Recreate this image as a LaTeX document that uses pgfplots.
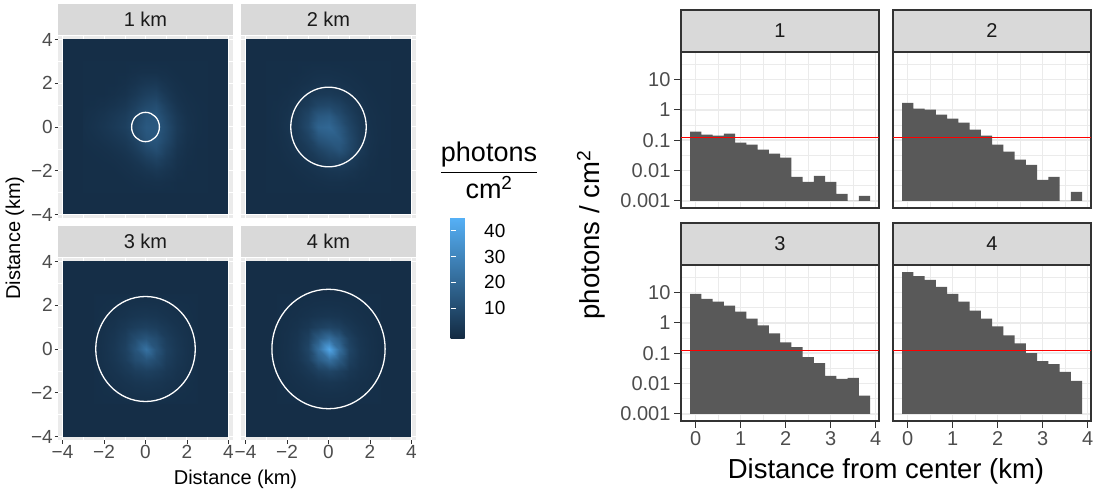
\documentclass[border=0pt]{standalone}
\usepackage{fontspec}
\setmainfont{Liberation Sans}
\usepackage{amsmath}
\usepackage{pgfplots}
\pgfplotsset{compat=1.18}

\definecolor{gray92}{RGB}{235,235,235}
\definecolor{gray85}{RGB}{217,217,217}
\definecolor{gray20}{RGB}{51,51,51}
\definecolor{gray30}{RGB}{77,77,77}
\definecolor{gray10}{RGB}{26,26,26}
\definecolor{barcol}{RGB}{89,89,89}
\definecolor{bgblue}{RGB}{21,46,71}
\definecolor{hred}{RGB}{255,0,0}

\pgfplotsset{
 myheat/.style={width=175bp,height=182bp,scale only axis,
  xmin=-4.22,xmax=4.22,ymin=-4.16,ymax=4.16,enlargelimits=false,
  axis background/.style={fill=gray92},
  xtick={-4,-2,0,2,4}, ytick={-4,-2,0,2,4},
  minor xtick={-3,-1,1,3}, minor ytick={-3,-1,1,3},
  xmajorgrids, ymajorgrids, xminorgrids, yminorgrids,
  major grid style={white,line width=1bp}, minor grid style={white,line width=0.5bp},
  axis line style={draw=none},
  tick align=outside, tick pos=left, major tick length=3.5bp, minor tick length=0pt,
  tick style={gray20,line width=0.8bp},
  ticklabel style={font=\fontsize{19bp}{22bp}\selectfont, text=gray30, inner sep=1.5bp},
  xticklabels={−4,−2,0,2,4}, yticklabels={−4,−2,0,2,4},
  colormap={gg}{rgb255=(19,43,67) rgb255=(86,177,247)},
  point meta min=-1.4, point meta max=45.2},
 mybars/.style={width=198bp,height=156bp,scale only axis,
  xmin=-0.325,xmax=4.075,ymin=0.000583,ymax=80.5,enlargelimits=false,
  xtick={0,1,2,3,4}, minor xtick={0.5,1.5,2.5,3.5},
  ytick={0.001,0.01,0.1,1,10}, minor ytick={0.00316,0.0316,0.316,3.16,31.6},
  xmajorgrids, ymajorgrids, xminorgrids, yminorgrids,
  major grid style={gray92,line width=1.4bp}, minor grid style={gray92,line width=0.7bp},
  axis line style={gray20,line width=1.2bp},
  tick align=outside, tick pos=left, major tick length=7bp, minor tick length=0pt,
  tick style={gray20,line width=1.1bp},
  ticklabel style={font=\fontsize{20bp}{24bp}\selectfont, text=gray30},
  xticklabels={0,1,2,3,4}, yticklabels={0.001,0.01,0.1,1,10}},
}

\begin{document}
\begin{tikzpicture}
\useasboundingbox (0,0) rectangle (1099bp,490bp);

% ---------------- left: heat maps ----------------
\begin{axis}[myheat, name=p1, at={(58bp,454bp)}, anchor=north west,
  xticklabels={,,,,}, xtick style={draw opacity=0}]
\addplot[fill=bgblue, draw=none] coordinates {(-4,-4) (4,-4) (4,4) (-4,4)} -- cycle;
\addplot[surf, shader=interp, mesh/cols=13, point meta=explicit] coordinates {
(-3,-3)[0] (-2.5,-3)[0] (-2,-3)[0] (-1.5,-3)[0] (-1,-3)[0] (-0.5,-3)[0] (0,-3)[0] (0.5,-3)[0] (1,-3)[0] (1.5,-3)[0] (2,-3)[0] (2.5,-3)[0] (3,-3)[0]
(-3,-2.5)[0] (-2.5,-2.5)[0] (-2,-2.5)[0] (-1.5,-2.5)[0] (-1,-2.5)[0] (-0.5,-2.5)[0.3] (0,-2.5)[0.6] (0.5,-2.5)[0.8] (1,-2.5)[0.5] (1.5,-2.5)[0] (2,-2.5)[0] (2.5,-2.5)[0] (3,-2.5)[0]
(-3,-2)[0] (-2.5,-2)[0] (-2,-2)[0] (-1.5,-2)[0] (-1,-2)[0.5] (-0.5,-2)[1.1] (0,-2)[2] (0.5,-2)[2.9] (1,-2)[1.9] (1.5,-2)[0.6] (2,-2)[0] (2.5,-2)[0] (3,-2)[0]
(-3,-1.5)[0] (-2.5,-1.5)[0] (-2,-1.5)[0.2] (-1.5,-1.5)[0.5] (-1,-1.5)[1.1] (-0.5,-1.5)[2.4] (0,-1.5)[4.8] (0.5,-1.5)[6.4] (1,-1.5)[4] (1.5,-1.5)[1.3] (2,-1.5)[0.3] (2.5,-1.5)[0] (3,-1.5)[0]
(-3,-1)[0] (-2.5,-1)[0.3] (-2,-1)[0.6] (-1.5,-1)[1.3] (-1,-1)[2.4] (-0.5,-1)[4.8] (0,-1)[8.8] (0.5,-1)[11] (1,-1)[6.4] (1.5,-1)[2.2] (2,-1)[0.6] (2.5,-1)[0] (3,-1)[0]
(-3,-0.5)[0.3] (-2.5,-0.5)[0.8] (-2,-0.5)[1.6] (-1.5,-0.5)[2.6] (-1,-0.5)[4] (-0.5,-0.5)[7.2] (0,-0.5)[12.8] (0.5,-0.5)[13.6] (1,-0.5)[8.8] (1.5,-0.5)[3.2] (2,-0.5)[1] (2.5,-0.5)[0.2] (3,-0.5)[0]
(-3,0)[0.5] (-2.5,0)[1.3] (-2,0)[2.4] (-1.5,0)[3.8] (-1,0)[5.6] (-0.5,0)[9.6] (0,0)[14.4] (0.5,0)[14.4] (1,0)[9.6] (1.5,0)[3.8] (2,0)[1.3] (2.5,0)[0.3] (3,0)[0]
(-3,0.5)[0.3] (-2.5,0.5)[1] (-2,0.5)[1.9] (-1.5,0.5)[3.2] (-1,0.5)[4.8] (-0.5,0.5)[8] (0,0.5)[12.8] (0.5,0.5)[13.6] (1,0.5)[8] (1.5,0.5)[3.2] (2,0.5)[1] (2.5,0.5)[0.3] (3,0.5)[0]
(-3,1)[0] (-2.5,1)[0.3] (-2,1)[0.8] (-1.5,1)[1.6] (-1,1)[2.9] (-0.5,1)[5.6] (0,1)[8.8] (0.5,1)[10.4] (1,1)[5.6] (1.5,1)[1.9] (2,1)[0.6] (2.5,1)[0.2] (3,1)[0]
(-3,1.5)[0] (-2.5,1.5)[0] (-2,1.5)[0] (-1.5,1.5)[0.5] (-1,1.5)[1.3] (-0.5,1.5)[3.2] (0,1.5)[5.6] (0.5,1.5)[6.4] (1,1.5)[3.2] (1.5,1.5)[1] (2,1.5)[0.3] (2.5,1.5)[0] (3,1.5)[0]
(-3,2)[0] (-2.5,2)[0] (-2,2)[0] (-1.5,2)[0] (-1,2)[0.5] (-0.5,2)[1.6] (0,2)[2.9] (0.5,2)[3.2] (1,2)[1.6] (1.5,2)[0.5] (2,2)[0] (2.5,2)[0] (3,2)[0]
(-3,2.5)[0] (-2.5,2.5)[0] (-2,2.5)[0] (-1.5,2.5)[0] (-1,2.5)[0] (-0.5,2.5)[0.5] (0,2.5)[0.8] (0.5,2.5)[0.8] (1,2.5)[0.5] (1.5,2.5)[0] (2,2.5)[0] (2.5,2.5)[0] (3,2.5)[0]
(-3,3)[0] (-2.5,3)[0] (-2,3)[0] (-1.5,3)[0] (-1,3)[0] (-0.5,3)[0] (0,3)[0] (0.5,3)[0] (1,3)[0] (1.5,3)[0] (2,3)[0] (2.5,3)[0] (3,3)[0]
};
\draw[white, line width=1.3bp] (axis cs:0,0) ellipse [x radius=0.67, y radius=0.67];
\end{axis}

\begin{axis}[myheat, name=p2, at={(241bp,454bp)}, anchor=north west,
  xticklabels={,,,,}, yticklabels={,,,,}, tick style={draw opacity=0},
  colorbar, colorbar style={at={(parent axis.south east)}, anchor=north west,
    xshift=26bp, yshift=1bp, width=25bp, height=121bp, scale only axis,
    ytick={10,20,30,40}, yticklabels={10,20,30,40}, tick align=inside, major tick length=5bp,
    tick style={white,line width=0.8bp}, axis line style={draw=none},
    tick pos=both, yticklabel pos=right,
    yticklabel style={font=\fontsize{19bp}{22bp}\selectfont, text=black, xshift=7bp}}]
\addplot[fill=bgblue, draw=none] coordinates {(-4,-4) (4,-4) (4,4) (-4,4)} -- cycle;
\addplot[surf, shader=interp, mesh/cols=13, point meta=explicit] coordinates {
(-3,-3)[0] (-2.5,-3)[0] (-2,-3)[0] (-1.5,-3)[0] (-1,-3)[0] (-0.5,-3)[0] (0,-3)[0] (0.5,-3)[0] (1,-3)[0] (1.5,-3)[0] (2,-3)[0] (2.5,-3)[0] (3,-3)[0]
(-3,-2.5)[0] (-2.5,-2.5)[0] (-2,-2.5)[0] (-1.5,-2.5)[0] (-1,-2.5)[0.3] (-0.5,-2.5)[0.5] (0,-2.5)[0.8] (0.5,-2.5)[0.8] (1,-2.5)[0.5] (1.5,-2.5)[0.3] (2,-2.5)[0] (2.5,-2.5)[0] (3,-2.5)[0]
(-3,-2)[0] (-2.5,-2)[0] (-2,-2)[0] (-1.5,-2)[0.4] (-1,-2)[0.9] (-0.5,-2)[1.6] (0,-2)[2.3] (0.5,-2)[2.6] (1,-2)[2] (1.5,-2)[0.9] (2,-2)[0.3] (2.5,-2)[0] (3,-2)[0]
(-3,-1.5)[0] (-2.5,-1.5)[0] (-2,-1.5)[0.4] (-1.5,-1.5)[1] (-1,-1.5)[2.1] (-0.5,-1.5)[3.6] (0,-1.5)[5.8] (0.5,-1.5)[6.5] (1,-1.5)[4.5] (1.5,-1.5)[2] (2,-1.5)[0.6] (2.5,-1.5)[0] (3,-1.5)[0]
(-3,-1)[0] (-2.5,-1)[0.1] (-2,-1)[0.8] (-1.5,-1)[2.1] (-1,-1)[3.9] (-0.5,-1)[7.2] (0,-1)[10.4] (0.5,-1)[13] (1,-1)[8.5] (1.5,-1)[3.4] (2,-1)[1] (2.5,-1)[0.1] (3,-1)[0]
(-3,-0.5)[0] (-2.5,-0.5)[0.3] (-2,-0.5)[1.2] (-1.5,-0.5)[3.1] (-1,-0.5)[6.5] (-0.5,-0.5)[13] (0,-0.5)[15.6] (0.5,-0.5)[15.6] (1,-0.5)[9.1] (1.5,-0.5)[3.6] (2,-0.5)[1.2] (2.5,-0.5)[0.3] (3,-0.5)[0]
(-3,0)[0] (-2.5,0)[0.4] (-2,0)[1.6] (-1.5,0)[3.9] (-1,0)[9.1] (-0.5,0)[18] (0,0)[19.5] (0.5,0)[14.3] (1,0)[7.8] (1.5,0)[3.1] (2,0)[1] (2.5,0)[0.3] (3,0)[0]
(-3,0.5)[0] (-2.5,0.5)[0.4] (-2,0.5)[1.3] (-1.5,0.5)[3.4] (-1,0.5)[7.8] (-0.5,0.5)[14.3] (0,0.5)[15.6] (0.5,0.5)[10.4] (1,0.5)[5.8] (1.5,0.5)[2.3] (2,0.5)[0.8] (2.5,0.5)[0.3] (3,0.5)[0]
(-3,1)[0] (-2.5,1)[0.3] (-2,1)[0.8] (-1.5,1)[2.1] (-1,1)[4.5] (-0.5,1)[7.8] (0,1)[8.5] (0.5,1)[6.5] (1,1)[3.6] (1.5,1)[1.6] (2,1)[0.5] (2.5,1)[0.1] (3,1)[0]
(-3,1.5)[0] (-2.5,1.5)[0] (-2,1.5)[0.4] (-1.5,1.5)[1] (-1,1.5)[2.3] (-0.5,1.5)[3.6] (0,1.5)[3.9] (0.5,1.5)[3.1] (1,1.5)[1.8] (1.5,1.5)[0.8] (2,1.5)[0.3] (2.5,1.5)[0] (3,1.5)[0]
(-3,2)[0] (-2.5,2)[0] (-2,2)[0] (-1.5,2)[0.4] (-1,2)[1] (-0.5,2)[1.6] (0,2)[1.7] (0.5,2)[1.3] (1,2)[0.8] (1.5,2)[0.4] (2,2)[0] (2.5,2)[0] (3,2)[0]
(-3,2.5)[0] (-2.5,2.5)[0] (-2,2.5)[0] (-1.5,2.5)[0] (-1,2.5)[0.4] (-0.5,2.5)[0.7] (0,2.5)[0.7] (0.5,2.5)[0.5] (1,2.5)[0.3] (1.5,2.5)[0] (2,2.5)[0] (2.5,2.5)[0] (3,2.5)[0]
(-3,3)[0] (-2.5,3)[0] (-2,3)[0] (-1.5,3)[0] (-1,3)[0] (-0.5,3)[0] (0,3)[0] (0.5,3)[0] (1,3)[0] (1.5,3)[0] (2,3)[0] (2.5,3)[0] (3,3)[0]
};
\draw[white, line width=1.3bp] (axis cs:0,0) ellipse [x radius=1.82, y radius=1.82];
\end{axis}

\begin{axis}[myheat, name=p3, at={(58bp,232bp)}, anchor=north west]
\addplot[fill=bgblue, draw=none] coordinates {(-4,-4) (4,-4) (4,4) (-4,4)} -- cycle;
\addplot[surf, shader=interp, mesh/cols=11, point meta=explicit] coordinates {
(-2.5,-2.5)[0] (-2,-2.5)[0] (-1.5,-2.5)[0] (-1,-2.5)[0] (-0.5,-2.5)[0] (0,-2.5)[0] (0.5,-2.5)[0] (1,-2.5)[0] (1.5,-2.5)[0] (2,-2.5)[0] (2.5,-2.5)[0]
(-2.5,-2)[0] (-2,-2)[0.2] (-1.5,-2)[0.4] (-1,-2)[0.8] (-0.5,-2)[1.1] (0,-2)[1.2] (0.5,-2)[1.1] (1,-2)[0.8] (1.5,-2)[0.4] (2,-2)[0.2] (2.5,-2)[0]
(-2.5,-1.5)[0] (-2,-1.5)[0.4] (-1.5,-1.5)[0.9] (-1,-1.5)[1.6] (-0.5,-1.5)[2.4] (0,-1.5)[2.8] (0.5,-1.5)[2.4] (1,-1.5)[1.6] (1.5,-1.5)[0.9] (2,-1.5)[0.4] (2.5,-1.5)[0]
(-2.5,-1)[0] (-2,-1)[0.8] (-1.5,-1)[1.6] (-1,-1)[3.2] (-0.5,-1)[5] (0,-1)[6] (0.5,-1)[5] (1,-1)[3.2] (1.5,-1)[1.6] (2,-1)[0.8] (2.5,-1)[0]
(-2.5,-0.5)[0] (-2,-0.5)[1.1] (-1.5,-0.5)[2.4] (-1,-0.5)[5] (-0.5,-0.5)[10] (0,-0.5)[13] (0.5,-0.5)[10] (1,-0.5)[5] (1.5,-0.5)[2.4] (2,-0.5)[1.1] (2.5,-0.5)[0]
(-2.5,0)[0] (-2,0)[1.2] (-1.5,0)[2.8] (-1,0)[6] (-0.5,0)[13] (0,0)[23] (0.5,0)[13] (1,0)[6] (1.5,0)[2.8] (2,0)[1.2] (2.5,0)[0]
(-2.5,0.5)[0] (-2,0.5)[1.1] (-1.5,0.5)[2.4] (-1,0.5)[5] (-0.5,0.5)[10] (0,0.5)[13] (0.5,0.5)[10] (1,0.5)[5] (1.5,0.5)[2.4] (2,0.5)[1.1] (2.5,0.5)[0]
(-2.5,1)[0] (-2,1)[0.8] (-1.5,1)[1.6] (-1,1)[3.2] (-0.5,1)[5] (0,1)[6] (0.5,1)[5] (1,1)[3.2] (1.5,1)[1.6] (2,1)[0.8] (2.5,1)[0]
(-2.5,1.5)[0] (-2,1.5)[0.4] (-1.5,1.5)[0.9] (-1,1.5)[1.6] (-0.5,1.5)[2.4] (0,1.5)[2.8] (0.5,1.5)[2.4] (1,1.5)[1.6] (1.5,1.5)[0.9] (2,1.5)[0.4] (2.5,1.5)[0]
(-2.5,2)[0] (-2,2)[0.2] (-1.5,2)[0.4] (-1,2)[0.8] (-0.5,2)[1.1] (0,2)[1.2] (0.5,2)[1.1] (1,2)[0.8] (1.5,2)[0.4] (2,2)[0.2] (2.5,2)[0]
(-2.5,2.5)[0] (-2,2.5)[0] (-1.5,2.5)[0] (-1,2.5)[0] (-0.5,2.5)[0] (0,2.5)[0] (0.5,2.5)[0] (1,2.5)[0] (1.5,2.5)[0] (2,2.5)[0] (2.5,2.5)[0]
};
\draw[white, line width=1.3bp] (axis cs:0,0) ellipse [x radius=2.4, y radius=2.4];
\end{axis}

\begin{axis}[myheat, name=p4, at={(241bp,232bp)}, anchor=north west,
  yticklabels={,,,,}, ytick style={draw opacity=0}]
\addplot[fill=bgblue, draw=none] coordinates {(-4,-4) (4,-4) (4,4) (-4,4)} -- cycle;
\addplot[surf, shader=interp, mesh/cols=11, point meta=explicit] coordinates {
(-2.5,-2.5)[0] (-2,-2.5)[0] (-1.5,-2.5)[0] (-1,-2.5)[0] (-0.5,-2.5)[0] (0,-2.5)[0] (0.5,-2.5)[0] (1,-2.5)[0] (1.5,-2.5)[0] (2,-2.5)[0] (2.5,-2.5)[0]
(-2.5,-2)[0] (-2,-2)[0.1] (-1.5,-2)[0.2] (-1,-2)[0.5] (-0.5,-2)[0.8] (0,-2)[0.9] (0.5,-2)[0.8] (1,-2)[0.5] (1.5,-2)[0.2] (2,-2)[0.1] (2.5,-2)[0]
(-2.5,-1.5)[0] (-2,-1.5)[0.2] (-1.5,-1.5)[0.6] (-1,-1.5)[1.3] (-0.5,-1.5)[2.1] (0,-1.5)[2.5] (0.5,-1.5)[2.1] (1,-1.5)[1.3] (1.5,-1.5)[0.6] (2,-1.5)[0.2] (2.5,-1.5)[0]
(-2.5,-1)[0] (-2,-1)[0.5] (-1.5,-1)[1.3] (-1,-1)[3] (-0.5,-1)[5.8] (0,-1)[7.5] (0.5,-1)[5.8] (1,-1)[3] (1.5,-1)[1.3] (2,-1)[0.5] (2.5,-1)[0]
(-2.5,-0.5)[0] (-2,-0.5)[0.8] (-1.5,-0.5)[2.1] (-1,-0.5)[5.8] (-0.5,-0.5)[15] (0,-0.5)[22] (0.5,-0.5)[15] (1,-0.5)[5.8] (1.5,-0.5)[2.1] (2,-0.5)[0.8] (2.5,-0.5)[0]
(-2.5,0)[0] (-2,0)[0.9] (-1.5,0)[2.5] (-1,0)[7.5] (-0.5,0)[22] (0,0)[41] (0.5,0)[22] (1,0)[7.5] (1.5,0)[2.5] (2,0)[0.9] (2.5,0)[0]
(-2.5,0.5)[0] (-2,0.5)[0.8] (-1.5,0.5)[2.1] (-1,0.5)[5.8] (-0.5,0.5)[15] (0,0.5)[22] (0.5,0.5)[15] (1,0.5)[5.8] (1.5,0.5)[2.1] (2,0.5)[0.8] (2.5,0.5)[0]
(-2.5,1)[0] (-2,1)[0.5] (-1.5,1)[1.3] (-1,1)[3] (-0.5,1)[5.8] (0,1)[7.5] (0.5,1)[5.8] (1,1)[3] (1.5,1)[1.3] (2,1)[0.5] (2.5,1)[0]
(-2.5,1.5)[0] (-2,1.5)[0.2] (-1.5,1.5)[0.6] (-1,1.5)[1.3] (-0.5,1.5)[2.1] (0,1.5)[2.5] (0.5,1.5)[2.1] (1,1.5)[1.3] (1.5,1.5)[0.6] (2,1.5)[0.2] (2.5,1.5)[0]
(-2.5,2)[0] (-2,2)[0.1] (-1.5,2)[0.2] (-1,2)[0.5] (-0.5,2)[0.8] (0,2)[0.9] (0.5,2)[0.8] (1,2)[0.5] (1.5,2)[0.2] (2,2)[0.1] (2.5,2)[0]
(-2.5,2.5)[0] (-2,2.5)[0] (-1.5,2.5)[0] (-1,2.5)[0] (-0.5,2.5)[0] (0,2.5)[0] (0.5,2.5)[0] (1,2.5)[0] (1.5,2.5)[0] (2,2.5)[0] (2.5,2.5)[0]
};
\draw[white, line width=1.3bp] (axis cs:0,0) ellipse [x radius=2.73, y radius=2.73];
\end{axis}

% strips (left)
\foreach \p/\t in {p1/1 km, p2/2 km, p3/3 km, p4/4 km}{
  \fill[gray85] ([yshift=1bp]\p.north west) rectangle ([yshift=32bp]\p.north east);
  \node[font=\fontsize{20bp}{24bp}\selectfont, text=gray10] at ([yshift=16.5bp]\p.north) {\t};
}
\node[rotate=90, font=\fontsize{20bp}{24bp}\selectfont] at (15bp,252bp) {Distance (km)};
\node[anchor=base, font=\fontsize{20bp}{24bp}\selectfont] at (235.5bp,6bp) {Distance (km)};

% colour legend title
\node[anchor=base, inner sep=0pt, font=\fontsize{27bp}{30bp}\selectfont] at (489bp,311.25bp)
  {$\dfrac{\text{photons}}{\text{cm\textsuperscript{2}}}$};

% ---------------- right: bar charts ----------------
% the red reference level 0.125 is drawn as a thin filled band (0.1224 to 0.1276)
\begin{semilogyaxis}[mybars, name=r1, at={(681bp,438bp)}, anchor=north west,
  xtick pos=right, xticklabel pos=right, xticklabels={,,,,}]
\addplot[fill=barcol, draw=none, const plot mark left] coordinates {
(-0.125,0.19) (0.125,0.152) (0.375,0.141) (0.625,0.164) (0.875,0.083) (1.125,0.071) (1.375,0.0485) (1.625,0.0358)
(1.875,0.0264) (2.125,0.0062) (2.375,0.00425) (2.625,0.0067) (2.875,0.00425) (3.125,0.0017) (3.375,0.001) (3.625,0.00146) (3.875,0.00146)
} -- (axis cs:3.875,0.001) -- (axis cs:-0.125,0.001) -- cycle;
\addplot[fill=hred, draw=none] coordinates {(-0.325,0.1224) (4.075,0.1224) (4.075,0.1276) (-0.325,0.1276)} -- cycle;
\end{semilogyaxis}

\begin{semilogyaxis}[mybars, name=r2, at={(893bp,438bp)}, anchor=north west,
  xtick pos=right, xticklabel pos=right, xticklabels={,,,,}, yticklabels={,,,,,}, ytick style={draw opacity=0}]
\addplot[fill=barcol, draw=none, const plot mark left] coordinates {
(-0.125,1.69) (0.125,1.10) (0.375,1.02) (0.625,0.70) (0.875,0.51) (1.125,0.38) (1.375,0.222) (1.625,0.141)
(1.875,0.071) (2.125,0.0417) (2.375,0.0227) (2.625,0.0155) (2.875,0.0049) (3.125,0.0062) (3.375,0.001) (3.625,0.00199) (3.875,0.00199)
} -- (axis cs:3.875,0.001) -- (axis cs:-0.125,0.001) -- cycle;
\addplot[fill=hred, draw=none] coordinates {(-0.325,0.1224) (4.075,0.1224) (4.075,0.1276) (-0.325,0.1276)} -- cycle;
\end{semilogyaxis}

\begin{semilogyaxis}[mybars, name=r3, at={(681bp,225bp)}, anchor=north west]
\addplot[fill=barcol, draw=none, const plot mark left] coordinates {
(-0.125,9.06) (0.125,6.2) (0.375,4.96) (0.625,3.67) (0.875,2.34) (1.125,1.38) (1.375,0.82) (1.625,0.449)
(1.875,0.228) (2.125,0.157) (2.375,0.074) (2.625,0.047) (2.875,0.0178) (3.125,0.0142) (3.375,0.0153) (3.625,0.00397) (3.875,0.00397)
} -- (axis cs:3.875,0.001) -- (axis cs:-0.125,0.001) -- cycle;
\addplot[fill=hred, draw=none] coordinates {(-0.325,0.1224) (4.075,0.1224) (4.075,0.1276) (-0.325,0.1276)} -- cycle;
\end{semilogyaxis}

\begin{semilogyaxis}[mybars, name=r4, at={(893bp,225bp)}, anchor=north west,
  yticklabels={,,,,,}, ytick style={draw opacity=0}]
\addplot[fill=barcol, draw=none, const plot mark left] coordinates {
(-0.125,47.2) (0.125,34.9) (0.375,25.9) (0.625,15.3) (0.875,9.06) (1.125,4.96) (1.375,2.52) (1.625,1.38)
(1.875,0.76) (2.125,0.386) (2.375,0.212) (2.625,0.1) (2.875,0.0548) (3.125,0.0437) (3.375,0.024) (3.625,0.0122) (3.875,0.0122)
} -- (axis cs:3.875,0.001) -- (axis cs:-0.125,0.001) -- cycle;
\addplot[fill=hred, draw=none] coordinates {(-0.325,0.1224) (4.075,0.1224) (4.075,0.1276) (-0.325,0.1276)} -- cycle;
\end{semilogyaxis}

\foreach \p/\t in {r1/1, r2/2, r3/3, r4/4}{
  \draw[fill=gray85, draw=gray20, line width=1.2bp] (\p.north west) rectangle ([yshift=42bp]\p.north east);
  \node[font=\fontsize{20bp}{24bp}\selectfont, text=gray10] at ([yshift=21bp]\p.north) {\t};
}
\node[rotate=90, font=\fontsize{27.5bp}{30bp}\selectfont] at (591bp,255bp) {photons / cm\textsuperscript{2}};
\node[anchor=base, font=\fontsize{27.5bp}{30bp}\selectfont] at (886bp,12bp) {Distance from center (km)};
\end{tikzpicture}
\end{document}
